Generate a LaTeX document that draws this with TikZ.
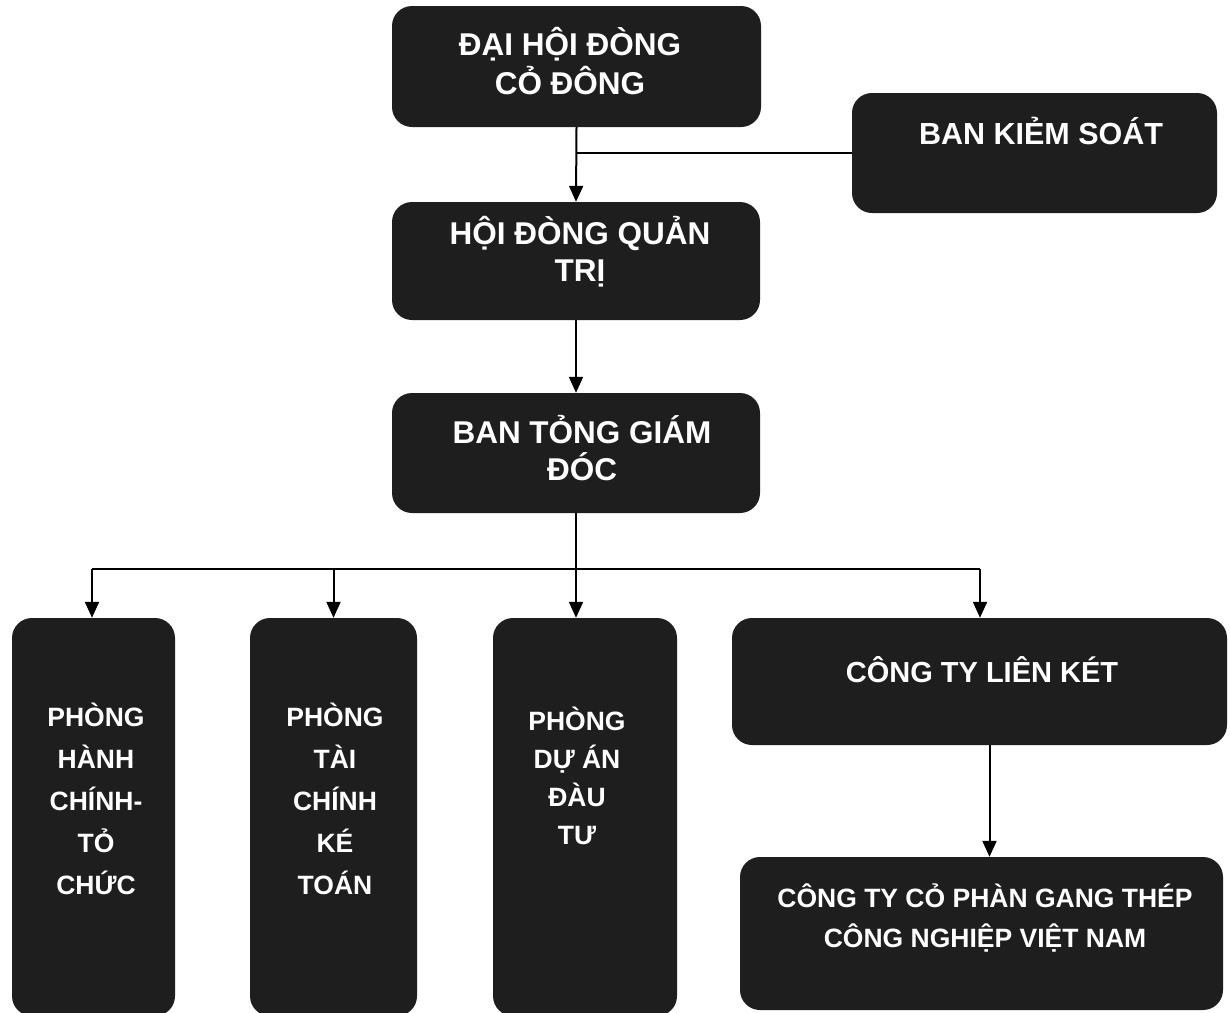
\documentclass[tikz,border=0pt]{standalone}
\usepackage{fontspec}
\setmainfont{Liberation Sans}
\usetikzlibrary{arrows.meta}
\definecolor{boxc}{HTML}{1E1E1E}
\begin{document}
\begin{tikzpicture}[x=1pt,y=-1pt,
  box/.style={fill=boxc, rounded corners=20pt, inner sep=0pt, draw=none},
  lbl/.style={text=white, align=center, inner sep=0pt},
  conn/.style={line width=2pt, draw=black},
  arr/.style={conn, -{Triangle[length=16pt,width=14pt]}}]
\useasboundingbox (0,0) rectangle (1230,1012);
\fill[white] (0,0) rectangle (1230,1012);

% boxes
\node[box, minimum width=369pt, minimum height=121pt] (dh)  at (576.5,66.5) {};
\node[box, minimum width=365pt, minimum height=120pt] (bks) at (1034.5,153) {};
\node[box, minimum width=368pt, minimum height=118pt] (hd)  at (576,261) {};
\node[box, minimum width=368pt, minimum height=120pt] (btg) at (576,453) {};
\node[box, minimum width=163pt, minimum height=398pt] (p1)  at (93.5,817) {};
\node[box, minimum width=167pt, minimum height=398pt] (p2)  at (333.5,817) {};
\node[box, minimum width=184pt, minimum height=398pt] (p3)  at (585,817) {};
\node[box, minimum width=495pt, minimum height=127pt] (ct)  at (979.5,681.5) {};
\node[box, minimum width=483pt, minimum height=153pt] (gt)  at (981.5,933.5) {};

% labels
\node[lbl, font=\bfseries\fontsize{31.5}{39}\selectfont] (dht) at (570,61) {ĐẠI HỘI ĐÒNG\\CỎ ĐÔNG};
\node[lbl, font=\bfseries\fontsize{30.5}{36}\selectfont] (bkst) at (1041,131) {BAN KIẺM SOÁT};
\node[lbl, font=\bfseries\fontsize{31.5}{37}\selectfont] (hdt) at (580,252) {HỘI ĐÒNG QUẢN\\TRỊ};
\node[lbl, font=\bfseries\fontsize{31.5}{37}\selectfont] (btgt) at (582,448) {BAN TỎNG GIÁM\\ĐÓC};
\node[lbl, font=\bfseries\fontsize{26.5}{42}\selectfont] (p1t) at (96,799) {PHÒNG\\HÀNH\\CHÍNH-\\TỎ\\CHỨC};
\node[lbl, font=\bfseries\fontsize{26.5}{42}\selectfont] (p2t) at (335,799) {PHÒNG\\TÀI\\CHÍNH\\KÉ\\TOÁN};
\node[lbl, font=\bfseries\fontsize{26.5}{38}\selectfont] (p3t) at (577,776) {PHÒNG\\DỰ ÁN\\ĐÀU\\TƯ};
\node[lbl, font=\bfseries\fontsize{29}{34}\selectfont] (ctt) at (982,670) {CÔNG TY LIÊN KÉT};
\node[lbl, font=\bfseries\fontsize{26.5}{40}\selectfont] (gtt) at (985,918) {CÔNG TY CỎ PHÀN GANG THÉP\\CÔNG NGHIỆP VIỆT NAM};

% connectors
\draw[arr] (dh.south) -- (hd.north);
\draw[conn] (bks.west) -- (bks.west -| dh.south);
\draw[arr] (hd.south) -- (btg.north);
\coordinate (j) at (576,569);
\coordinate (jl) at (92,569);
\coordinate (jr) at (980,569);
\draw[conn] (btg.south) -- (j);
\draw[conn] (jl) -- (jr);
\draw[arr] (jl) -- (jl |- p1.north);
\draw[arr] (j -| p2.north) -- (p2.north);
\draw[arr] (j) -- (j |- p3.north);
\draw[arr] (jr) -- (jr |- ct.north);
\draw[arr] ([xshift=10pt]ct.south) -- ([xshift=10pt]ct.south |- gt.north);
\end{tikzpicture}
\end{document}
